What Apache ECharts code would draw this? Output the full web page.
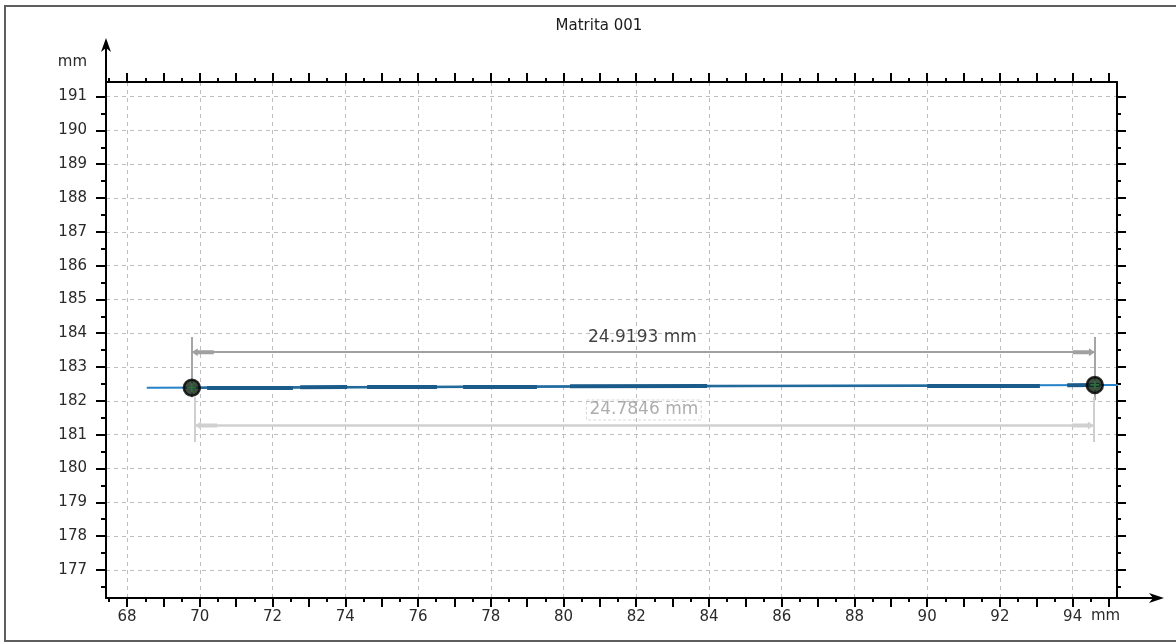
<!DOCTYPE html>
<html>
<head>
<meta charset="utf-8">
<script src="https://cdn.jsdelivr.net/npm/echarts@6/dist/echarts.min.js"></script>
<style>
html,body{margin:0;padding:0;background:#fff;}
#chart{width:1176px;height:644px;}
</style>
</head>
<body>
<div id="chart"></div>
<script>
// ---- tick labels ----
const xLabelTicks = [68, 70, 72, 74, 76, 78, 80, 82, 84, 86, 88, 90, 92, 94];
const xOddTicks = [69, 71, 73, 75, 77, 79, 81, 83, 85, 87, 89, 91, 93, 95];
const xHalfTicks = [67.5, 68.5, 69.5, 70.5, 71.5, 72.5, 73.5, 74.5, 75.5, 76.5, 77.5, 78.5, 79.5, 80.5, 81.5, 82.5, 83.5, 84.5, 85.5, 86.5, 87.5, 88.5, 89.5, 90.5, 91.5, 92.5, 93.5, 94.5];
const yLabelTicks = [177, 178, 179, 180, 181, 182, 183, 184, 185, 186, 187, 188, 189, 190, 191];
const yHalfTicks = [176.5, 177.5, 178.5, 179.5, 180.5, 181.5, 182.5, 183.5, 184.5, 185.5, 186.5, 187.5, 188.5, 189.5, 190.5];

// ---- fitted line (thin) ----
const lineX = [68.54, 95.36];
const lineY = [182.39, 182.47];

// ---- measured profile segments (thick, dark) ----
const segStartX = [70.20, 72.76, 74.60, 77.24, 80.18, 90.00, 93.85];
const segStartY = [182.39, 182.40, 182.41, 182.42, 182.43, 182.45, 182.46];
const segEndX   = [72.56, 74.05, 76.52, 79.27, 83.95, 93.10, 94.75];
const segEndY   = [182.40, 182.41, 182.41, 182.42, 182.44, 182.46, 182.47];
// thinner dark portion
const midSegX = [69.78, 83.95, 90.00];
const midSegY = [182.39, 182.44, 182.45];

// ---- measurement points ----
const pointX = [69.78, 94.61];
const pointY = [182.39, 182.47];

// ---- dimension 1 (upper) ----
const dim1X = [69.78, 94.61];
const dim1Y = 183.44;
const dim1ExtTop = 183.89;
const dim1ExtBottom = [182.11, 182.02];
const dim1Label = '24.9193 mm';
const dim1LabelPos = [82.17, 183.86];

// ---- dimension 2 (lower) ----
const dim2X = [69.87, 94.58];
const dim2Y = 181.27;
const dim2ExtTop = 182.11;
const dim2ExtBottom = 180.78;
const dim2Label = '24.7846 mm';
const dim2LabelPos = [82.21, 181.73];

const X_MIN = 67.42, X_MAX = 95.22, Y_MIN = 176.17, Y_MAX = 191.43;
const FONT = 'DejaVu Sans';
const GL = 106, GT = 82, GR = 1117, GB = 598;

const chart = echarts.init(document.getElementById('chart'), null, {renderer: 'canvas'});

function xAx(extra) {
  return Object.assign({
    type: 'value', min: X_MIN, max: X_MAX, gridIndex: 0,
    axisLine: {show: false, onZero: false},
    axisLabel: {show: false},
    splitLine: {show: false},
    axisTick: {show: false}
  }, extra);
}
function yAx(extra) {
  return Object.assign({
    type: 'value', min: Y_MIN, max: Y_MAX, gridIndex: 0,
    axisLine: {show: false, onZero: false},
    axisLabel: {show: false},
    splitLine: {show: false},
    axisTick: {show: false}
  }, extra);
}
const tickStyle = {color: '#000', width: 2};
const longTick = 9, shortTick = 4;
const arrowPath = 'path://M5,-30 M5,0 L11,8 L8,8 L8,30 L2,30 L2,8 L-1,8 Z';

const option = {
  animation: false,
  backgroundColor: '#fff',
  title: {
    text: 'Matrita 001', left: 594, top: 14, textAlign: 'center',
    textStyle: {fontFamily: FONT, fontSize: 15, fontWeight: 'normal', color: '#1a1a1a'}
  },
  grid: {left: GL, top: GT, right: 1176 - GR, bottom: 644 - GB, outerBoundsMode: 'none', containLabel: false},
  xAxis: [
    xAx({
      position: 'bottom',
      name: 'mm', nameLocation: 'end', nameGap: -26,
      nameTextStyle: {fontFamily: FONT, fontSize: 15, color: '#2a2a2a', align: 'left', verticalAlign: 'top', padding: [11, 0, 0, 0]},
      axisLine: {show: true, onZero: false, lineStyle: {color: '#000', width: 2}},
      axisTick: {show: true, customValues: xLabelTicks, length: longTick, lineStyle: tickStyle},
      axisLabel: {show: true, customValues: xLabelTicks, margin: 12, fontFamily: FONT, fontSize: 15, color: '#2a2a2a'},
      splitLine: {show: true, lineStyle: {color: '#bdbdbd', width: 1, type: [4, 4]}}
    }),
    xAx({position: 'bottom', axisTick: {show: true, customValues: xOddTicks, length: longTick, lineStyle: tickStyle}}),
    xAx({position: 'bottom', axisTick: {show: true, customValues: xHalfTicks, length: shortTick, lineStyle: tickStyle}}),
    xAx({position: 'top',
      axisLine: {show: true, onZero: false, lineStyle: {color: '#000', width: 2}},
      axisTick: {show: true, customValues: xLabelTicks.concat(xOddTicks), length: longTick, lineStyle: tickStyle}}),
    xAx({position: 'top', axisTick: {show: true, customValues: xHalfTicks, length: shortTick, lineStyle: tickStyle}})
  ],
  yAxis: [
    yAx({
      position: 'left',
      name: 'mm', nameLocation: 'end', nameGap: 20,
      nameTextStyle: {fontFamily: FONT, fontSize: 15, color: '#2a2a2a', align: 'right', verticalAlign: 'middle', padding: [0, 19, 0, 0]},
      axisLine: {show: true, onZero: false, lineStyle: {color: '#000', width: 2}},
      axisTick: {show: true, customValues: yLabelTicks, length: longTick + 1, lineStyle: tickStyle},
      axisLabel: {show: true, customValues: yLabelTicks, margin: 19, fontFamily: FONT, fontSize: 15, color: '#2a2a2a'},
      splitLine: {show: true, lineStyle: {color: '#bdbdbd', width: 1, type: [4, 4]}}
    }),
    yAx({position: 'left', axisTick: {show: true, customValues: yHalfTicks, length: shortTick + 1, lineStyle: tickStyle}}),
    yAx({position: 'right',
      axisLine: {show: true, onZero: false, lineStyle: {color: '#000', width: 2}},
      axisTick: {show: true, customValues: yLabelTicks, length: longTick, lineStyle: tickStyle}}),
    yAx({position: 'right', axisTick: {show: true, customValues: yHalfTicks, length: shortTick, lineStyle: tickStyle}})
  ],
  series: [
    // upper dimension extension lines
    {
      type: 'lines', coordinateSystem: 'cartesian2d', xAxisIndex: 0, yAxisIndex: 0, z: 3, silent: true,
      lineStyle: {color: '#a6a6a6', width: 2, opacity: 1},
      data: [
        {coords: [[dim1X[0], dim1ExtTop], [dim1X[0], dim1ExtBottom[0]]]},
        {coords: [[dim1X[1], dim1ExtTop], [dim1X[1], dim1ExtBottom[1]]]}
      ]
    },
    // lower dimension extension lines
    {
      type: 'lines', coordinateSystem: 'cartesian2d', xAxisIndex: 0, yAxisIndex: 0, z: 3, silent: true,
      lineStyle: {color: '#cfcfcf', width: 2, opacity: 1},
      data: [
        {coords: [[dim2X[0], dim2ExtTop], [dim2X[0], dim2ExtBottom]]},
        {coords: [[dim2X[1], dim2ExtTop], [dim2X[1], dim2ExtBottom]]}
      ]
    },
    // upper dimension line
    {
      type: 'lines', coordinateSystem: 'cartesian2d', xAxisIndex: 0, yAxisIndex: 0, z: 3, silent: true,
      symbol: [arrowPath, arrowPath],
      symbolSize: [[8, 44], [8, 44]],
      lineStyle: {color: '#a0a0a0', width: 2, opacity: 1},
      itemStyle: {color: '#a0a0a0'},
      data: [{coords: [[dim1X[0], dim1Y], [dim1X[1], dim1Y]]}]
    },
    // lower dimension line
    {
      type: 'lines', coordinateSystem: 'cartesian2d', xAxisIndex: 0, yAxisIndex: 0, z: 3, silent: true,
      symbol: [arrowPath, arrowPath],
      symbolSize: [[8, 44], [8, 44]],
      lineStyle: {color: '#d0d0d0', width: 2.5, opacity: 1},
      itemStyle: {color: '#d0d0d0'},
      data: [{coords: [[dim2X[0], dim2Y], [dim2X[1], dim2Y]]}]
    },
    // thin fitted line
    {
      type: 'line', xAxisIndex: 0, yAxisIndex: 0, z: 4, clip: false, silent: true,
      symbol: 'none',
      lineStyle: {color: '#2582c8', width: 2},
      data: lineX.map((x, i) => [x, lineY[i]])
    },
    // medium dark profile
    {
      type: 'line', xAxisIndex: 0, yAxisIndex: 0, z: 5, silent: true,
      symbol: 'none',
      lineStyle: {color: '#22699c', width: 2.5},
      data: midSegX.map((x, i) => [x, midSegY[i]])
    },
    // thick dark profile segments
    {
      type: 'lines', coordinateSystem: 'cartesian2d', xAxisIndex: 0, yAxisIndex: 0, z: 6, silent: true,
      lineStyle: {color: '#1a5b8a', width: 4, opacity: 1},
      data: segStartX.map((x, i) => ({coords: [[x, segStartY[i]], [segEndX[i], segEndY[i]]]}))
    },
    // measurement points
    {
      type: 'scatter', xAxisIndex: 0, yAxisIndex: 0, z: 8, silent: true,
      symbol: 'circle', symbolSize: 16,
      itemStyle: {color: '#0e2212', borderColor: '#000', borderWidth: 2.5},
      data: pointX.map((x, i) => [x, pointY[i]])
    },
    {
      type: 'scatter', xAxisIndex: 0, yAxisIndex: 0, z: 9, silent: true,
      symbol: 'path://M4,0 L6,0 L6,4 L10,4 L10,6 L6,6 L6,10 L4,10 L4,6 L0,6 L0,4 L4,4 Z', symbolSize: 9,
      itemStyle: {color: '#3b7a42'},
      data: pointX.map((x, i) => [x, pointY[i]])
    },
    // dimension labels
    {
      type: 'scatter', xAxisIndex: 0, yAxisIndex: 0, z: 10, silent: true,
      symbolSize: 1, itemStyle: {color: 'rgba(0,0,0,0)'},
      label: {show: true, position: 'inside', formatter: p => p.name, fontFamily: FONT, fontSize: 17},
      data: [
        {name: dim1Label, value: dim1LabelPos, label: {color: '#111'}},
        {name: dim2Label, value: dim2LabelPos, label: {color: '#999', borderColor: '#cfcfcf', borderWidth: 1, borderType: [3, 2], padding: [2, 3, 1, 3]}}
      ]
    }
  ],
  graphic: [
    {type: 'rect', silent: true, z: 100, shape: {x: 5, y: 6, width: 1185, height: 635},
      style: {fill: null, stroke: '#5e5e5e', lineWidth: 2}},
    {type: 'line', silent: true, z: 100, shape: {x1: GL, y1: GT, x2: GL, y2: 46},
      style: {stroke: '#000', lineWidth: 2}},
    {type: 'polygon', silent: true, z: 100, shape: {points: [[GL, 38], [GL - 5, 52], [GL, 48], [GL + 5, 52]]},
      style: {fill: '#000'}},
    {type: 'line', silent: true, z: 100, shape: {x1: GR, y1: GB, x2: 1156, y2: GB},
      style: {stroke: '#000', lineWidth: 2}},
    {type: 'polygon', silent: true, z: 100, shape: {points: [[1164, GB], [1149, GB - 5], [1153, GB], [1149, GB + 5]]},
      style: {fill: '#000'}}
  ]
};
chart.setOption(option);
</script>
</body>
</html>
